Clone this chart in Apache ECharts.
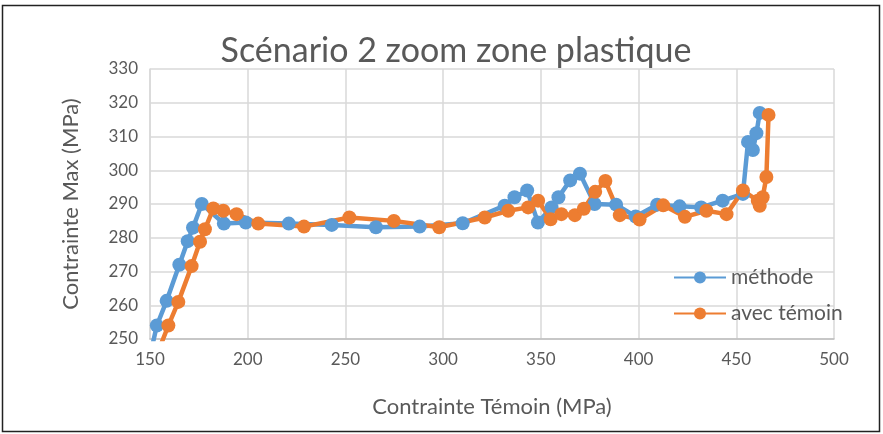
<!DOCTYPE html>
<html>
<head>
<meta charset="utf-8">
<script src="https://cdn.jsdelivr.net/npm/echarts@6/dist/echarts.min.js"></script>
<style>
  html, body { margin: 0; padding: 0; background: #fff; }
  #chart { width: 883px; height: 434px; }
</style>
</head>
<body>
<div id="chart"></div>
<script>
// données
const methode = [
  [150, 245], [153.5, 254], [158.5, 261.3], [165, 272], [169.3, 279], [172, 283],
  [176.5, 290], [187.8, 284.2], [199, 284.5], [221, 284.2], [243, 283.8],
  [265.6, 283.1], [288, 283.3], [310, 284.3], [331.5, 289.5], [336.5, 292],
  [343, 294], [348.5, 284.5], [355.5, 289], [359, 292], [365, 297], [370, 299],
  [377.5, 290], [388.5, 289.8], [398.5, 286.3], [409.5, 289.8], [421, 289.3],
  [432, 289], [443, 291], [453.4, 293], [456, 308.4], [458.5, 306],
  [460.3, 311], [462, 317]
];
const avecTemoin = [
  [154, 246], [159.4, 254], [164.5, 261], [171.3, 271.6], [175.6, 278.8],
  [178.1, 282.5], [182.4, 288.7], [187.5, 288], [194.3, 287], [205.4, 284.2],
  [228.8, 283.3], [252, 286], [274.8, 285], [298, 283.1], [321.3, 286],
  [333.3, 288], [343.5, 289], [348.6, 291], [355, 285.5], [360.5, 287],
  [367.4, 286.7], [372, 288.6], [377.8, 293.6], [383, 296.8], [390.4, 286.7],
  [400.5, 285.4], [412.6, 289.6], [423.7, 286.2], [434.7, 288], [445, 287],
  [453.4, 294], [461, 291], [462, 289.5], [463.5, 292], [465.4, 298],
  [466.5, 316.4]
];
const xTicks = { min: 150, max: 500, step: 50 };
const yTicks = { min: 250, max: 330, step: 10 };

const font = 'Lato, "Open Sans", sans-serif';
const grey = '#595959';

const chart = echarts.init(document.getElementById('chart'));
chart.setOption({
  animation: false,
  textStyle: { fontFamily: font },
  title: {
    text: 'Scénario 2 zoom zone plastique',
    left: 451, top: 29, textAlign: 'center',
    textStyle: { fontFamily: font, fontSize: 34, fontWeight: 'normal', color: grey }
  },
  grid: { left: 150, right: 49, top: 69, bottom: 95 },
  legend: {
    orient: 'vertical', left: 668, top: 262,
    itemWidth: 52, itemHeight: 15, itemGap: 15,
    textStyle: { fontFamily: font, fontSize: 21, color: grey },
    data: ['méthode', 'avec témoin']
  },
  xAxis: {
    type: 'value', min: xTicks.min, max: xTicks.max, interval: xTicks.step,
    name: 'Contrainte Témoin (MPa)', nameLocation: 'middle', nameGap: 57,
    nameTextStyle: { fontFamily: font, fontSize: 22, color: grey },
    axisLine: { show: true, lineStyle: { color: '#BFBFBF', width: 1.5 } },
    axisTick: { show: false },
    axisLabel: { fontSize: 17, color: grey, margin: 12 },
    splitLine: { show: true, lineStyle: { color: '#D9D9D9', width: 1.5 } }
  },
  yAxis: {
    type: 'value', min: yTicks.min, max: yTicks.max, interval: yTicks.step,
    name: 'Contrainte Max (MPa)', nameLocation: 'middle', nameGap: 68,
    nameTextStyle: { fontFamily: font, fontSize: 22, color: grey },
    axisLine: { show: true, lineStyle: { color: '#D9D9D9', width: 1.5 } },
    axisTick: { show: false },
    axisLabel: { fontSize: 17, color: grey, margin: 12 },
    splitLine: { show: true, lineStyle: { color: '#D9D9D9', width: 1.5 } }
  },
  series: [
    {
      name: 'méthode', type: 'line', data: methode, clip: true,
      symbol: 'circle', symbolSize: 14,
      lineStyle: { color: '#5B9BD5', width: 4.5 },
      itemStyle: { color: '#5B9BD5' }
    },
    {
      name: 'avec témoin', type: 'line', data: avecTemoin, clip: true,
      symbol: 'circle', symbolSize: 14,
      lineStyle: { color: '#ED7D31', width: 4.5 },
      itemStyle: { color: '#ED7D31' }
    }
  ],
  graphic: [{
    type: 'rect', shape: { x: 2.5, y: 5.5, width: 877, height: 426 },
    style: { fill: null, stroke: '#222', lineWidth: 1.5 }, silent: true
  }]
});
</script>
</body>
</html>
